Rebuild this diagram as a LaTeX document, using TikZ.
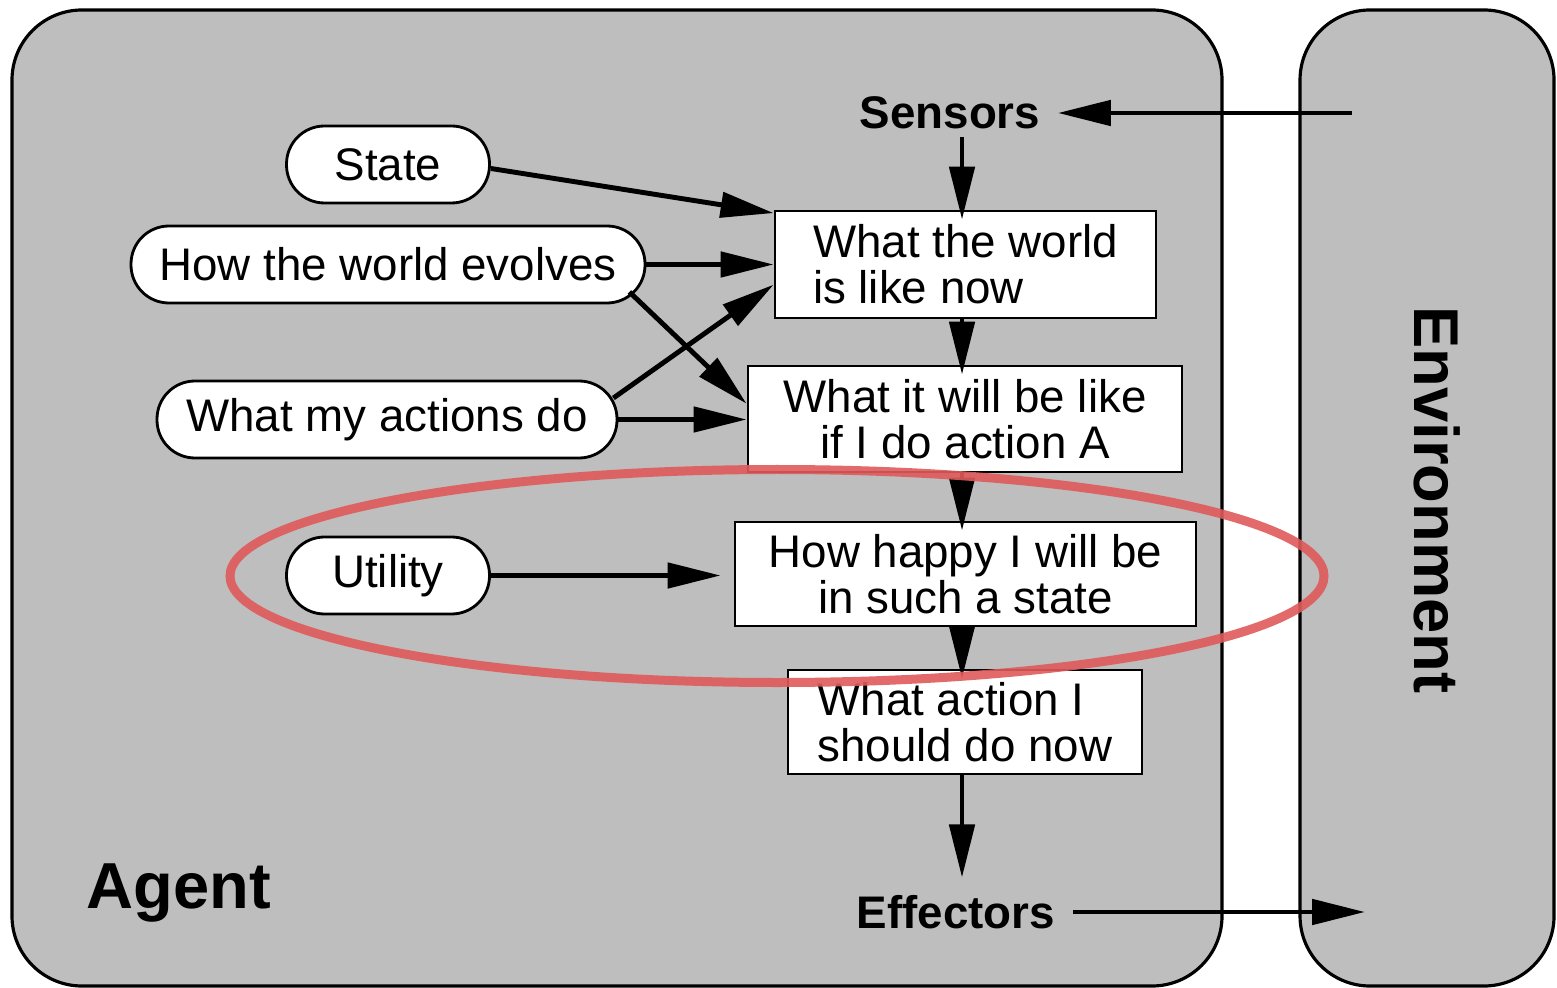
\documentclass[tikz,border=0pt]{standalone}
\usepackage{fontspec}
\setmainfont{Liberation Sans}
\usetikzlibrary{positioning}
\usetikzlibrary{arrows.meta}
\definecolor{panel-grey}{HTML}{BEBEBE}
\definecolor{ring-red}{HTML}{E05A5A}

\begin{document}
\begin{tikzpicture}[font=\fontsize{13}{13}\selectfont,
  panel/.style={draw, line width=0.9pt, fill=panel-grey, rounded corners=7mm, inner sep=0pt},
  belief/.style={draw, line width=0.8pt, fill=white, rounded corners=3.8mm, minimum height=7.7mm, inner sep=0pt},
  stage/.style={draw, line width=0.8pt, fill=white, inner sep=0pt},
  text only/.style={inner sep=2pt, align=center, font=\fontsize{13}{13}\selectfont\bfseries},
  flow/.style={line width=1.4pt, -{Triangle[length=5.3mm, width=2.5mm]}}]
\useasboundingbox (0,0) rectangle (15.57,-9.88);
\pgfmathsetmacro{\spine}{9.62}
% agent and environment panels
\node[panel, minimum width=12.1cm, minimum height=9.76cm]
  (agent)
  at (6.17, -4.98)
  {};
\node[panel, minimum width=2.54cm, minimum height=9.76cm]
  (world)
  at (14.27, -4.98)
  {};
\node[text only, font=\fontsize{18.5}{18.5}\selectfont\bfseries]
  (agent-label)
  at (1.79, -8.93)
  {Agent};
\node[text only, font=\fontsize{18}{18}\selectfont\bfseries, rotate=-90]
  (world-label)
  at (14.37, -5.0)
  {Environment};
% knowledge the agent keeps
\node[belief, minimum width=2.03cm]
  (state)
  at (3.88, -1.645)
  {State};
\node[belief, minimum width=5.14cm]
  (evolves)
  at (3.88, -2.645)
  {How the world evolves};
\node[belief, minimum width=4.6cm]
  (actions)
  at (3.87, -4.195)
  {What my actions do};
\node[belief, minimum width=2.03cm]
  (utility)
  at (3.88, -5.755)
  {Utility};
% the chain from percept to action
\node[text only]
  (sensors)
  at (9.5, -1.13)
  {Sensors};
\node[stage, align=left, minimum width=3.81cm, minimum height=1.07cm]
  (now)
  at (9.655, -2.645)
  {What the world\\is like now};
\node[stage, align=center, minimum width=4.34cm, minimum height=1.06cm]
  (ifA)
  at (9.65, -4.19)
  {What it will be like\\if I do action A};
\node[stage, align=center, minimum width=4.61cm, minimum height=1.04cm]
  (happy)
  at (9.655, -5.74)
  {How happy I will be\\in such a state};
\node[stage, align=left, minimum width=3.54cm, minimum height=1.04cm]
  (decide)
  at (9.65, -7.22)
  {What action I\\should do now};
\node[text only]
  (effectors)
  at (9.56, -9.12)
  {Effectors};
\coordinate (env-in) at (13.52, -1.13);
\coordinate (env-out) at (13.65, -9.12);
% connectors
\draw[flow] (env-in) -- ([xshift=1mm]sensors.east);
\draw[flow, shorten >=-1mm] (sensors.south -| \spine, 0) -- (now.north -| \spine, 0);
\foreach \a/\b in {now/ifA, ifA/happy, happy/decide}
  \draw[flow, shorten >=-1mm] (\a.south -| \spine, 0) -- (\b.north -| \spine, 0);
\draw[flow] (decide.south -| \spine, 0) -- ([yshift=1mm]effectors.north -| \spine, 0);
\draw[flow] ([xshift=1mm]effectors.east) -- (env-out);
\draw[flow] ([yshift=-0.4mm]state.east) -- (now.165);
\draw[flow] (evolves.east) -- (now.west);
\draw[flow] ([xshift=-1.7mm, yshift=-2.75mm]evolves.east) -- (ifA.176);
\draw[flow] ([xshift=-0.5mm, yshift=2.15mm]actions.east) -- (now.186);
\draw[flow] (actions.east) -- (actions.east -| ifA.west);
\draw[flow, shorten >=1.3mm] (utility.east) -- (utility.east -| happy.west);
% highlight round the utility step
\draw[ring-red, draw opacity=0.9, line width=0.09cm] (7.77, -5.76) ellipse [x radius=5.47, y radius=1.065];
\end{tikzpicture}
\end{document}
